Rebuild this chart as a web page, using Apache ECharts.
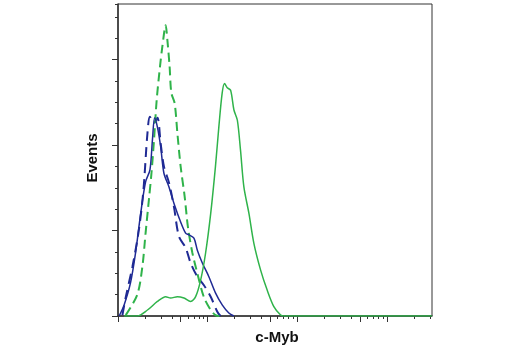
<!DOCTYPE html>
<html>
<head>
<meta charset="utf-8">
<script src="https://cdn.jsdelivr.net/npm/echarts@6/dist/echarts.min.js"></script>
<style>html,body{margin:0;padding:0;background:#fff}#c{width:520px;height:350px}</style>
</head>
<body>
<div id="c"></div>
<script>
// x = channel intensity (log scale), y = events
const greenDashed = [[1.22,1],[1.64,25],[1.87,58],[2.03,97],[2.21,136],[2.36,167],[2.52,206],[2.70,253],[2.94,292],[3.12,315],[3.40,340],[3.55,323],[3.76,292],[3.93,261],[4.28,249],[4.59,214],[4.99,175],[5.53,140],[6.02,104],[6.74,74],[7.66,50],[9.07,22],[10.8,7],[12.2,1],[13.5,0]];
const blueSolid = [[1.03,0],[1.17,13],[1.38,39],[1.57,74],[1.79,120],[2.03,157],[2.27,171],[2.42,206],[2.56,232],[2.75,221],[2.99,198],[3.25,167],[3.70,151],[4.20,132],[4.99,110],[5.67,97],[6.18,95],[7.02,91],[7.66,77],[8.71,62],[10.3,46],[12.2,27],[14.5,13],[17.2,3.5],[19.6,0]];
const blueDashed = [[1.12,1],[1.22,22],[1.45,58],[1.71,101],[1.92,147],[2.13,214],[2.27,233],[2.52,226],[2.75,232],[2.99,202],[3.25,175],[3.70,156],[4.20,128],[4.78,93],[5.67,80],[6.45,62],[7.66,46],[9.07,36],[10.8,22.6],[12.8,5],[13.9,0]];
const greenSolid = [[1.17,0],[1.64,0],[2.13,7],[2.75,17],[3.40,22.6],[3.86,21],[4.59,22.6],[5.43,21],[6.45,17],[7.33,22.6],[8.34,42],[9.48,74],[10.8,120],[12.2,175],[13.3,221],[14.5,261],[15.4,272],[16.5,267],[18.0,264],[19.6,241],[21.4,229],[23.2,194],[25.3,151],[28.8,120],[32.7,85],[38.8,54],[46.1,30],[54.6,11],[64.9,1.2],[70.6,0],[3162,0]];

const minorTicksX = [];
[1,10,100,1000].forEach(d => { for (let k = 1; k <= 9; k++) { const v = k*d; if (v <= 3162) minorTicksX.push(v); } });
const majorTicksX = [1,5,10,50,100,500,1000];
const majorTicksY = [0,100,200,300];

const chart = echarts.init(document.getElementById('c'), null, {renderer:'canvas'});
const axisCol = '#333';
const blue = '#1f2a94';
const green = '#2fb34a';
const fontFam = '"Liberation Sans Narrow", "Liberation Sans", Arial, sans-serif';

function xAx(ticks, len, show) {
  return {
    type: 'log', min: 1, max: 3162, logBase: 10,
    position: 'bottom',
    axisLine: {show: show, lineStyle: {color: axisCol, width: 1.5}},
    axisTick: {show: true, customValues: ticks, length: len, lineStyle: {color: axisCol, width: 1}},
    axisLabel: {show: false},
    splitLine: {show: false}
  };
}
function yAx(len, show, custom) {
  const a = {
    type: 'value', min: 0, max: 365, interval: 25,
    position: 'left',
    axisLine: {show: show, lineStyle: {color: axisCol, width: 1.5}},
    axisTick: {show: true, length: len, lineStyle: {color: axisCol, width: 1}},
    axisLabel: {show: false},
    splitLine: {show: false}
  };
  if (custom) a.axisTick.customValues = custom;
  return a;
}

function line(data, color, dash, width) {
  return {
    type: 'line', data: data, showSymbol: false, symbol: 'none', smooth: 0.3,
    xAxisIndex: 0, yAxisIndex: 0,
    lineStyle: {color: color, width: width, type: dash || 'solid'},
    animation: false
  };
}

chart.setOption({
  animation: false,
  grid: {left: 118, right: 88, top: 4, bottom: 34, show: true, borderColor: axisCol, borderWidth: 1},
  xAxis: [xAx(minorTicksX, 3, true), xAx(majorTicksX, 6, false)],
  yAxis: [yAx(3, true, null), yAx(6, false, majorTicksY)],
  graphic: [
    {type: 'text', x: 93, y: 158, rotation: Math.PI/2, style: {text: 'Events', x: 0, y: 0, font: 'bold 15px ' + fontFam, fill: '#111', textAlign: 'center', textVerticalAlign: 'middle'}},
    {type: 'text', x: 277, y: 338, style: {text: 'c-Myb', x: 0, y: 0, font: 'bold 15px ' + fontFam, fill: '#111', textAlign: 'center', textVerticalAlign: 'middle'}}
  ],
  series: [
    line(blueDashed, blue, [10,6], 2),
    line(greenDashed, green, [9,5], 2),
    line(blueSolid, blue, null, 1.5),
    line(greenSolid, green, null, 1.5)
  ]
});
</script>
</body>
</html>
